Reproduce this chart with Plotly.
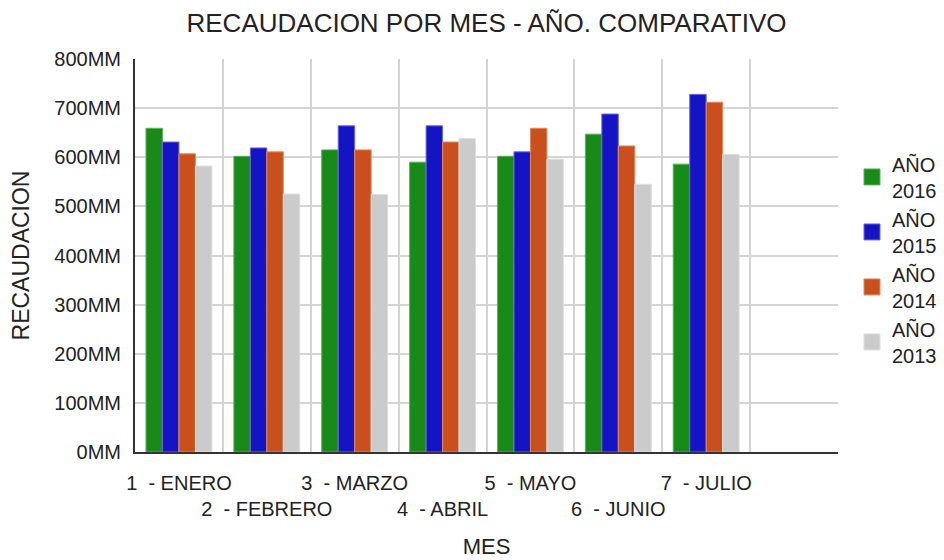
import plotly.graph_objects as go

months = ["1  - ENERO", "2  - FEBRERO", "3  - MARZO", "4  - ABRIL",
          "5  - MAYO", "6  - JUNIO", "7  - JULIO", ""]
series_names = ["AÑO<br>2016", "AÑO<br>2015", "AÑO<br>2014", "AÑO<br>2013"]
# values in millions (MM)
v2016 = [659, 602, 615, 590, 602, 647, 586, None]
v2015 = [631, 619, 664, 664, 611, 688, 728, None]
v2014 = [607, 611, 615, 631, 659, 623, 712, None]
v2013 = [582, 525, 524, 638, 596, 545, 606, None]
y_ticks = [0, 100, 200, 300, 400, 500, 600, 700, 800]
y_ticklabels = [f"{v}MM" for v in y_ticks]

colors = ["#178a17", "#1414c4", "#c9501c", "#cbcbcb"]
edges = ["#5fb05f", "#6a6ae0", "#e08a5f", "#dedede"]
series = [v2016, v2015, v2014, v2013]

cats = [f"c{i}" for i in range(len(months))]
ticktext = [m if i % 2 == 0 else " <br>" + m for i, m in enumerate(months)]

FONT = "Liberation Sans, Arial, sans-serif"

fig = go.Figure()
for name, vals, c, e in zip(series_names, series, colors, edges):
    fig.add_trace(go.Bar(x=cats, y=vals, name=name, showlegend=False,
                         marker=dict(color=c, line=dict(color=e, width=1))))
for name, c, e in zip(series_names, colors, edges):
    fig.add_trace(go.Scatter(x=[None], y=[None], name=name, mode="markers",
                             marker=dict(symbol="square", size=16, color=c,
                                         line=dict(color=e, width=1))))

fig.update_layout(
    width=944, height=560,
    margin=dict(l=135, r=106, t=59, b=108),
    paper_bgcolor="white", plot_bgcolor="white",
    font=dict(family=FONT, color="#222222", size=20),
    title=dict(text="RECAUDACION POR MES - AÑO. COMPARATIVO",
               x=0.5, xref="paper", xanchor="center",
               y=1 - 23 / 560, yref="container", yanchor="middle",
               font=dict(size=26, color="#222222")),
    barmode="group", bargap=0.25, bargroupgap=0,
    legend=dict(xref="container", x=852 / 944, xanchor="left",
                yref="paper", y=0.49, yanchor="middle",
                font=dict(size=20, color="#222222"), itemwidth=30),
    xaxis=dict(type="category", categoryorder="array", categoryarray=cats,
               tickmode="array", tickvals=cats, ticktext=ticktext,
               tickson="boundaries", range=[-0.5, len(cats) - 0.5],
               tickangle=0, automargin=False,
               showgrid=True, gridcolor="#d4d4d4", gridwidth=2,
               showline=True, linecolor="#333333", linewidth=2,
               ticks="", ticklabelstandoff=12,
               tickfont=dict(size=20),
               title=dict(text="MES", standoff=20, font=dict(size=22))),
    yaxis=dict(range=[0, 800], tickmode="array", tickvals=y_ticks,
               ticktext=y_ticklabels, automargin=False,
               showgrid=True, gridcolor="#d4d4d4", gridwidth=2,
               zeroline=False,
               showline=True, linecolor="#333333", linewidth=2,
               ticks="", ticklabelstandoff=8,
               tickfont=dict(size=20),
               title=dict(text="RECAUDACION", standoff=18, font=dict(size=23))),
)

fig.write_html(
    "out.html",
    config={"displayModeBar": False},
    post_script="document.body.style.margin='0';document.body.style.overflow='hidden';",
)
